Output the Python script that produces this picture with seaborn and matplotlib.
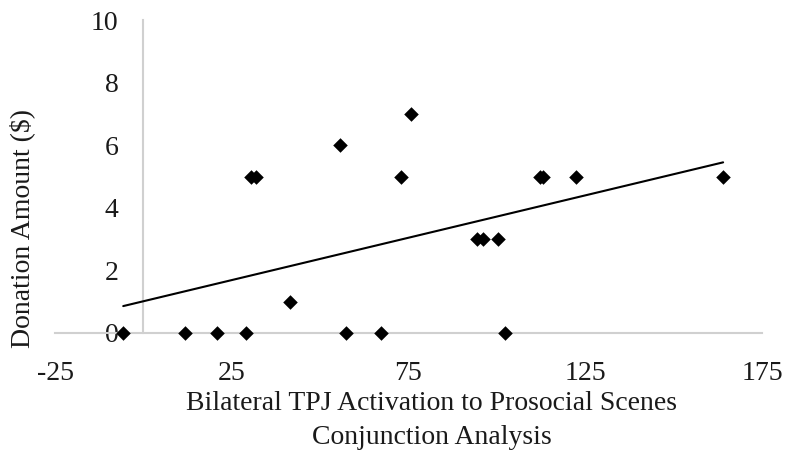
import matplotlib
matplotlib.use("Agg")
import matplotlib.pyplot as plt
import seaborn as sns
import pandas as pd

# TPJ activation (x) vs donation amount (y)
activation = [-5.7, 11.9, 20.8, 29.1, 57.2, 67.3, 102.4,
              30.5, 31.9, 72.9, 112.1, 113.0, 122.5, 164.0,
              55.7, 75.8, 41.6, 94.4, 96.0, 100.4]
donation = [0, 0, 0, 0, 0, 0, 0,
            5, 5, 5, 5, 5, 5, 5,
            6, 7, 1, 3, 3, 3]

x_ticks = [-25, 25, 75, 125, 175]
y_ticks = [0, 2, 4, 6, 8, 10]

df = pd.DataFrame({'activation': activation, 'donation': donation})

sns.set_theme(style="white")
plt.rcParams['font.family'] = ['Liberation Serif', 'DejaVu Serif']
plt.rcParams['axes.unicode_minus'] = False

fig = plt.figure(figsize=(7.85, 4.53), dpi=100)
ax = fig.add_axes([55/785, 120/453, 707/785, 313/453])

sns.regplot(x='activation', y='donation', data=df, ax=ax, ci=None,
            marker='D', color='black',
            scatter_kws={'s': 55, 'clip_on': False, 'zorder': 3,
                         'linewidths': 0, 'alpha': 1},
            line_kws={'linewidth': 1.5, 'color': 'black'})

ax.set_xlim(-25, 175)
ax.set_ylim(0, 10)
ax.set_xticks(x_ticks)
ax.set_yticks(y_ticks)

for s in ['top', 'right']:
    ax.spines[s].set_visible(False)
ax.spines['left'].set_position(('data', 0))
for s in ['left', 'bottom']:
    ax.spines[s].set_color('#d0d0d0')
    ax.spines[s].set_linewidth(1.5)
    ax.spines[s].set_zorder(1)

ax.tick_params(axis='both', length=0, labelsize=20, colors='#1a1a1a')
ax.tick_params(axis='x', pad=20)
ax.tick_params(axis='y', pad=18)

ax.set_xlabel('Bilateral TPJ Activation to Prosocial Scenes\nConjunction Analysis',
              fontsize=20, color='#1a1a1a', linespacing=1.5)
ax.xaxis.set_label_coords(0.533, -0.185)
ax.set_ylabel('Donation Amount ($)', fontsize=20, color='#1a1a1a')
ax.yaxis.set_label_coords(-0.028, 0.335)

fig.savefig('out.png', dpi=100)
